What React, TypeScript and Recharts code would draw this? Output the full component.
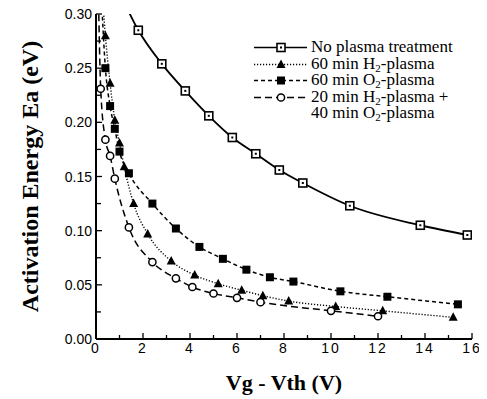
import { LineChart, Line, XAxis, YAxis, Legend } from 'recharts'

// No plasma treatment
const noPlasmaX = [0.8, 1.8, 2.8, 3.8, 4.8, 5.8, 6.8, 7.8, 8.8, 10.8, 13.8, 15.8]
const noPlasmaY = [0.33, 0.285, 0.254, 0.229, 0.206, 0.186, 0.171, 0.156, 0.144, 0.123, 0.105, 0.096]

// 60 min H2-plasma
const h2X = [0.2, 0.4, 0.6, 0.8, 1.0, 1.2, 1.6, 2.2, 3.2, 4.2, 5.2, 6.2, 7.1, 8.2, 10.2, 12.2, 15.2]
const h2Y = [0.34, 0.28, 0.236, 0.202, 0.181, 0.159, 0.125, 0.097, 0.072, 0.059, 0.051, 0.045, 0.04, 0.035, 0.03, 0.026, 0.02]

// 60 min O2-plasma
const o2X = [0.2, 0.4, 0.6, 0.8, 1.0, 1.4, 2.4, 3.4, 4.4, 5.4, 6.4, 7.4, 8.4, 10.4, 12.4, 15.4]
const o2Y = [0.33, 0.25, 0.215, 0.194, 0.173, 0.153, 0.125, 0.102, 0.085, 0.074, 0.064, 0.057, 0.053, 0.044, 0.039, 0.032]

// 20 min H2 + 40 min O2
const mixX = [0.1, 0.2, 0.4, 0.6, 0.8, 1.4, 2.4, 3.4, 4.1, 5.0, 6.0, 7.0, 10.0, 12.0]
const mixY = [0.32, 0.231, 0.184, 0.169, 0.148, 0.103, 0.071, 0.056, 0.048, 0.042, 0.038, 0.034, 0.026, 0.021]

const xTicks = [0, 1, 2, 3, 4, 5, 6, 7, 8, 9, 10, 11, 12, 13, 14, 15, 16]
const yTicks = [0, 0.025, 0.05, 0.075, 0.1, 0.125, 0.15, 0.175, 0.2, 0.225, 0.25, 0.275, 0.3]

const toPoints = (xs: number[], ys: number[]) => xs.map((x, i) => ({ x, y: ys[i] }))

const TICK_FONT = '"Liberation Sans", Arial, sans-serif'
const SERIF = '"Liberation Serif", "Times New Roman", serif'
const YMAX = 0.3

type Kind = 'openSquare' | 'triangle' | 'square' | 'circle'

function Marker({ kind, cx, cy }: { kind: Kind; cx: number; cy: number }) {
  if (kind === 'openSquare')
    return (
      <g>
        <rect x={cx - 4} y={cy - 4} width={8} height={8} fill="#fff" stroke="#000" strokeWidth={1.6} />
        <rect x={cx - 1} y={cy - 1} width={2} height={2} fill="#000" />
      </g>
    )
  if (kind === 'triangle')
    return <polygon points={`${cx},${cy - 5} ${cx - 4.5},${cy + 3.5} ${cx + 4.5},${cy + 3.5}`} fill="#000" />
  if (kind === 'square') return <rect x={cx - 4} y={cy - 4} width={8} height={8} fill="#000" />
  return <circle cx={cx} cy={cy} r={3.6} fill="#fff" stroke="#000" strokeWidth={1.5} />
}

const makeDot = (kind: Kind) => (props: any) => {
  const { cx, cy, payload, index } = props
  if (payload.y > YMAX) return <g key={`d-${kind}-${index}`} />
  return (
    <g key={`d-${kind}-${index}`}>
      <Marker kind={kind} cx={cx} cy={cy} />
    </g>
  )
}

const YTick = (props: any) => {
  const { x, y, payload } = props
  const v = payload.value
  const major = Math.abs(v * 20 - Math.round(v * 20)) < 1e-6
  const ax = x + 4
  return (
    <g>
      <line x1={ax} x2={ax + (major ? 6 : 5)} y1={y} y2={y} stroke="#000" strokeWidth={1.3} />
      {major && (
        <text x={x} y={y} dy={5} textAnchor="end" fontFamily={TICK_FONT} fontSize={14} fill="#000">
          {v.toFixed(2)}
        </text>
      )}
    </g>
  )
}

const RightTick = (props: any) => {
  const { x, y } = props
  const ax = x - 4
  return <line x1={ax} x2={ax - 5} y1={y} y2={y} stroke="#000" strokeWidth={1.3} />
}

const XTick = (props: any) => {
  const { x, y, payload } = props
  const v = payload.value
  const major = v % 2 === 0
  return (
    <g>
      <line x1={x} x2={x} y1={y} y2={y - (major ? 6 : 4)} stroke="#000" strokeWidth={1.3} />
      {major && (
        <text x={x} y={y} dy={14} textAnchor="middle" fontFamily={TICK_FONT} fontSize={14} letterSpacing={2} fill="#000">
          {v}
        </text>
      )}
    </g>
  )
}

const legendItems: { kind: Kind; dash?: string; label: any }[] = [
  { kind: 'openSquare', label: <>No plasma treatment</> },
  { kind: 'triangle', dash: '1.2 1.8', label: <>60 min H<sub>2</sub>-plasma</> },
  { kind: 'square', dash: '4 3', label: <>60 min O<sub>2</sub>-plasma</> },
  {
    kind: 'circle',
    dash: '7 4',
    label: (
      <>
        20 min H<sub>2</sub>-plasma +<br />
        40 min O<sub>2</sub>-plasma
      </>
    ),
  },
]

const LegendBox = () => (
  <div style={{ fontFamily: SERIF, fontSize: 17, color: '#000', lineHeight: '16.5px' }}>
    {legendItems.map((it, i) => (
      <div key={i} style={{ display: 'flex', alignItems: 'flex-start' }}>
        <svg width={56} height={16.5} style={{ flex: 'none' }}>
          <line x1={1} x2={54} y1={8.5} y2={8.5} stroke="#000" strokeWidth={1.5} strokeDasharray={it.dash} />
          <Marker kind={it.kind} cx={28} cy={8.5} />
        </svg>
        <span style={{ marginLeft: 2, whiteSpace: 'nowrap' }}>{it.label}</span>
      </div>
    ))}
  </div>
)

export default function App() {
  return (
    <div style={{ width: 479, height: 391, background: '#fff' }}>
      <style>{`sub { font-size: 11px; vertical-align: -3px; line-height: 0; } .recharts-surface { overflow: visible; }`}</style>
      <LineChart width={479} height={391} margin={{ top: 6, right: 15, left: 40, bottom: 10 }}>
        <XAxis
          xAxisId="b"
          type="number"
          dataKey="x"
          domain={[0, 16]}
          ticks={xTicks}
          interval={0}
          tickSize={0}
          tickMargin={0}
          tickLine={false}
          tick={XTick}
          axisLine={{ stroke: '#000', strokeWidth: 2 }}
          height={50}
          allowDataOverflow
          label={({ viewBox }: any) => (
            <text
              x={viewBox.x + viewBox.width / 2}
              y={viewBox.y + 51}
              textAnchor="middle"
              fontFamily={SERIF}
              fontWeight="bold"
              fontSize={22}
              fill="#000"
            >
              Vg - Vth (V)
            </text>
          )}
        />
        <XAxis
          xAxisId="t"
          orientation="top"
          type="number"
          dataKey="x"
          domain={[0, 16]}
          tick={false}
          tickLine={false}
          height={0}
          axisLine={{ stroke: '#000', strokeWidth: 2 }}
        />
        <YAxis
          yAxisId="l"
          type="number"
          domain={[0, YMAX]}
          ticks={yTicks}
          interval={0}
          tickSize={0}
          tickMargin={4}
          tickLine={false}
          tick={YTick}
          width={48}
          allowDataOverflow
          axisLine={{ stroke: '#000', strokeWidth: 2 }}
          label={({ viewBox }: any) => {
            const cx = viewBox.x - 18
            const cy = viewBox.y + viewBox.height / 2
            return (
              <text
                x={cx}
                y={cy}
                transform={`rotate(-90 ${cx} ${cy})`}
                textAnchor="middle"
                dominantBaseline="central"
                fontFamily={SERIF}
                fontWeight="bold"
                fontSize={24}
                fill="#000"
              >
                Activation Energy Ea (eV)
              </text>
            )
          }}
        />
        <YAxis
          yAxisId="r"
          orientation="right"
          type="number"
          domain={[0, YMAX]}
          ticks={yTicks}
          interval={0}
          tickSize={0}
          tickMargin={4}
          tickLine={false}
          tick={RightTick}
          width={0}
          axisLine={{ stroke: '#000', strokeWidth: 2 }}
        />
        <Legend
          layout="vertical"
          verticalAlign="middle"
          align="center"
          content={LegendBox}
          wrapperStyle={{ top: 31, left: 245, width: 'auto' }}
        />
        <Line
          xAxisId="b"
          yAxisId="l"
          data={toPoints(noPlasmaX, noPlasmaY)}
          dataKey="y"
          type="monotone"
          stroke="#000"
          strokeWidth={1.8}
          dot={makeDot('openSquare')}
          isAnimationActive={false}
        />
        <Line
          xAxisId="b"
          yAxisId="l"
          data={toPoints(h2X, h2Y)}
          dataKey="y"
          type="monotone"
          stroke="#000"
          strokeWidth={1.4}
          strokeDasharray="1.2 1.8"
          dot={makeDot('triangle')}
          isAnimationActive={false}
        />
        <Line
          xAxisId="b"
          yAxisId="l"
          data={toPoints(o2X, o2Y)}
          dataKey="y"
          type="monotone"
          stroke="#000"
          strokeWidth={1.5}
          strokeDasharray="4 3"
          dot={makeDot('square')}
          isAnimationActive={false}
        />
        <Line
          xAxisId="b"
          yAxisId="l"
          data={toPoints(mixX, mixY)}
          dataKey="y"
          type="monotone"
          stroke="#000"
          strokeWidth={1.5}
          strokeDasharray="7 4"
          dot={makeDot('circle')}
          isAnimationActive={false}
        />
      </LineChart>
    </div>
  )
}
